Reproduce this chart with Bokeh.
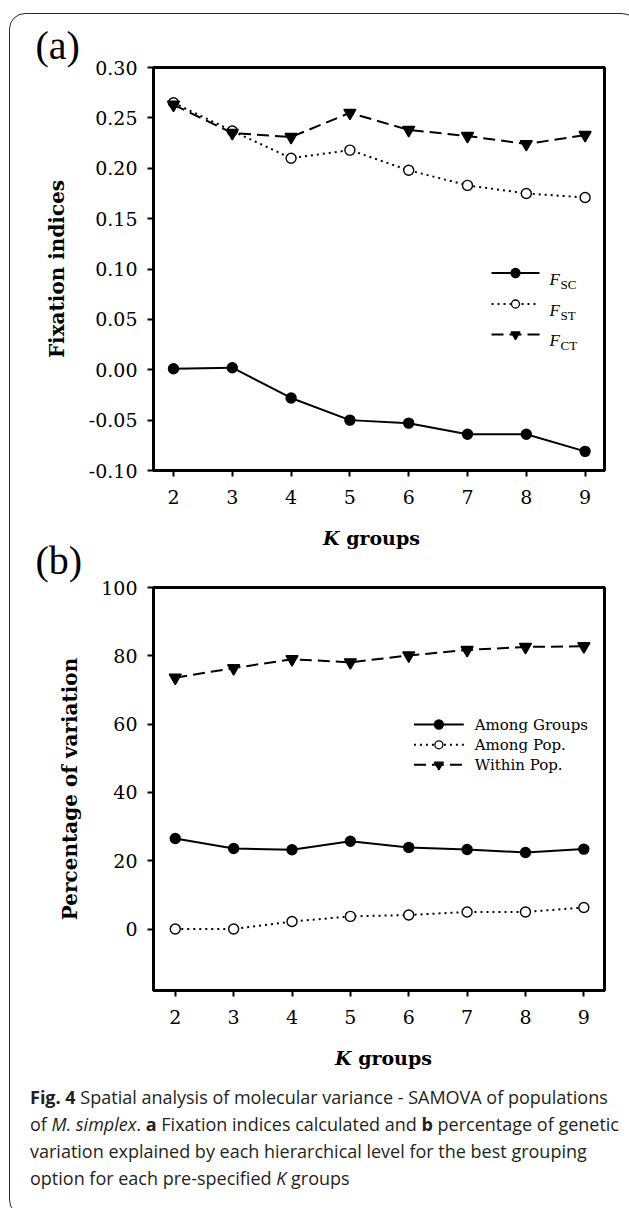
from bokeh.plotting import figure
from bokeh.models import Range1d, FixedTicker, Label, Div, ColumnDataSource, Spacer
from bokeh.layouts import column, row
from bokeh.embed import file_html
from bokeh.resources import INLINE

# ---------------- data ----------------
k_groups = [2, 3, 4, 5, 6, 7, 8, 9]
f_sc = [0.001, 0.002, -0.028, -0.050, -0.053, -0.064, -0.064, -0.081]
f_st = [0.265, 0.237, 0.210, 0.218, 0.198, 0.183, 0.175, 0.171]
f_ct = [0.263, 0.235, 0.231, 0.255, 0.238, 0.232, 0.224, 0.233]

among_groups = [26.5, 23.6, 23.2, 25.7, 23.9, 23.3, 22.4, 23.4]
among_pop = [0.0, 0.0, 2.2, 3.7, 4.1, 5.0, 5.0, 6.3]
within_pop = [73.6, 76.4, 79.0, 78.1, 80.1, 81.7, 82.6, 82.8]

x_ticks = [2, 3, 4, 5, 6, 7, 8, 9]
a_y_ticks = [-0.10, -0.05, 0.00, 0.05, 0.10, 0.15, 0.20, 0.25, 0.30]
a_y_labels = ["-0.10", "-0.05", "0.00", "0.05", "0.10", "0.15", "0.20", "0.25", "0.30"]
b_y_ticks = [0, 20, 40, 60, 80, 100]
b_y_labels = ["0", "20", "40", "60", "80", "100"]

a_legend = [("SC", "solid"), ("ST", "dotted"), ("CT", "dashed")]
b_legend = [("Among Groups", "solid"), ("Among Pop.", "dotted"), ("Within Pop.", "dashed")]

# ---------------- layout geometry (page px) ----------------
PAGE_ORIGIN = 0          # Bokeh's page template has no body margin
COL_X, COL_Y, W = 9, 13, 619
SERIF = "DejaVu Serif"
TIMES = "Liberation Serif"
HTML_SHIFT = -5          # HTML text in the Div sits a few px low

STYLES = {
    "solid": dict(line_dash="solid", marker="circle", size=10, fill="black"),
    "dotted": dict(line_dash="2 4", marker="circle", size=10, fill="white"),
    "dashed": dict(line_dash="12 6", marker="inverted_triangle", size=12, fill="black"),
}


class Geo:
    def __init__(self, top, height, bl, br, bt, bb, xr, yr):
        self.top, self.height = top, height
        self.bl, self.br, self.bt, self.bb = bl, br, bt, bb
        self.xr, self.yr = xr, yr
        self.fl = COL_X + bl
        self.fr = COL_X + W - br
        self.ft = top + bt
        self.fb = top + height - bb

    def x(self, px):
        return self.xr[0] + (px - self.fl) / (self.fr - self.fl) * (self.xr[1] - self.xr[0])

    def y(self, py):
        return self.yr[1] - (py - self.ft) / (self.fb - self.ft) * (self.yr[1] - self.yr[0])


def make_fig(g, yticks, ylabels, ylabel, ystandoff, tag, tag_standoff):
    p = figure(width=W, height=g.height,
               x_range=Range1d(*g.xr), y_range=Range1d(*g.yr),
               output_backend="svg", toolbar_location=None,
               min_border_left=g.bl, min_border_right=g.br,
               min_border_top=g.bt, min_border_bottom=g.bb)
    p.xgrid.visible = False
    p.ygrid.visible = False
    p.outline_line_color = "black"
    p.outline_line_width = 3
    p.background_fill_color = "white"
    p.border_fill_color = None
    for ax in (p.xaxis, p.yaxis):
        ax.axis_line_color = "black"
        ax.axis_line_width = 3
        ax.major_tick_in = 0
        ax.major_tick_out = 6
        ax.major_tick_line_width = 2
        ax.minor_tick_line_color = None
        ax.major_label_text_font = SERIF
        ax.major_label_text_font_size = "19px"
        ax.major_label_text_color = "black"
    p.xaxis.ticker = FixedTicker(ticks=x_ticks)
    p.xaxis.major_label_standoff = 13
    p.yaxis.ticker = FixedTicker(ticks=yticks)
    p.yaxis.major_label_overrides = {t: l for t, l in zip(yticks, ylabels)}
    p.yaxis.major_label_standoff = 10
    p.yaxis.axis_label = ylabel
    p.yaxis.axis_label_text_font = SERIF
    p.yaxis.axis_label_text_font_style = "bold"
    p.yaxis.axis_label_text_font_size = "20px"
    p.yaxis.axis_label_text_color = "black"
    p.yaxis.axis_label_standoff = ystandoff
    # panel tag "(a)" / "(b)" as the figure title, pulled to the left edge
    p.title.text = tag
    p.title.text_font = TIMES
    p.title.text_font_size = "40px"
    p.title.text_font_style = "normal"
    p.title.text_color = "black"
    p.title.align = "left"
    p.title.vertical_align = "bottom"
    p.title.offset = 35 - g.fl
    p.title.standoff = tag_standoff
    return p


def series(p, xs, ys, style):
    s = STYLES[style]
    src = ColumnDataSource(dict(x=xs, y=ys))
    p.line("x", "y", source=src, line_color="black", line_width=2, line_dash=s["line_dash"])
    p.scatter("x", "y", source=src, marker=s["marker"], size=s["size"],
              fill_color=s["fill"], line_color="black", line_width=1.4)


def legend_sample(p, g, x0, x1, ypx, style, msize):
    s = STYLES[style]
    yy = g.y(ypx)
    p.line([g.x(x0), g.x(x1)], [yy, yy], line_color="black", line_width=2, line_dash=s["line_dash"])
    p.scatter([g.x((x0 + x1) / 2)], [yy], marker=s["marker"], size=msize,
              fill_color=s["fill"], line_color="black", line_width=1.3)


# ---------------- panel (a) ----------------
ga = Geo(top=COL_Y, height=515, bl=144, br=24, bt=54, bb=58,
         xr=(1.66, 9.33), yr=(-0.10, 0.30))
pa = make_fig(ga, a_y_ticks, a_y_labels, "Fixation indices", 17, "(a)", 0)
series(pa, k_groups, f_sc, "solid")
series(pa, k_groups, f_st, "dotted")
series(pa, k_groups, f_ct, "dashed")

for i, (sub, style) in enumerate(a_legend):
    ry = [272.5, 303.5, 334.0][i]
    legend_sample(pa, ga, 491, 539, ry, style, 9 if style != "dotted" else 8)
    pa.add_layout(Label(x=ga.x(549), y=ga.y(ry + 6), text="F", text_font=TIMES,
                        text_font_style="italic", text_font_size="17px",
                        text_align="left", text_baseline="alphabetic", text_color="black"))
    pa.add_layout(Label(x=ga.x(560), y=ga.y(ry + 11), text=sub, text_font=TIMES,
                        text_font_size="13px", text_align="left",
                        text_baseline="alphabetic", text_color="black"))

# ---------------- panel (b) ----------------
gb = Geo(top=COL_Y + 515, height=556, bl=144, br=23, bt=59, bb=94,
         xr=(1.627, 9.354), yr=(-18.0, 100.0))
pb = make_fig(gb, b_y_ticks, b_y_labels, "Percentage of variation", 16, "(b)", 10)
series(pb, k_groups, among_groups, "solid")
series(pb, k_groups, among_pop, "dotted")
series(pb, k_groups, within_pop, "dashed")

for i, (name, style) in enumerate(b_legend):
    ry = [724.0, 744.3, 764.3][i]
    legend_sample(pb, gb, 414, 464, ry, style, 9 if style != "dotted" else 8)
    pb.add_layout(Label(x=gb.x(475), y=gb.y(ry), text=name, text_font=SERIF,
                        text_font_size="15px", text_align="left",
                        text_baseline="middle", text_color="black"))

# ---------------- caption (+ x-axis titles overlaid in page position) ----------------
CAP_TOP = COL_Y + 515 + 556
CAP_H = 1206 - CAP_TOP


def kgroups_span(left_px, baseline_px):
    top = baseline_px - 16.1 - CAP_TOP
    return ("<span style=\"position:absolute;left:%.1fpx;top:%.1fpx;line-height:19px;"
            "font-family:'DejaVu Serif';font-weight:bold;font-size:19px;color:#000;"
            "white-space:nowrap;\"><i>K</i> groups</span>" % (left_px - COL_X, top))


caption_html = (
    "<div style=\"position:relative;top:%dpx;width:%dpx;height:%dpx;\">" % (HTML_SHIFT, W, CAP_H)
    + kgroups_span(318, 545)
    + kgroups_span(330, 1065)
    + "<div style=\"font-family:'Open Sans';font-size:18px;line-height:27px;"
    "color:#231f20;white-space:nowrap;padding-left:16px;\">"
    "<b>Fig. 4</b> Spatial analysis of molecular variance - SAMOVA of populations<br>"
    "of <i>M. simplex</i>. <b>a</b> Fixation indices calculated and <b>b</b> percentage of genetic<br>"
    "variation explained by each hierarchical level for the best grouping<br>"
    "option for each pre-specified <i>K</i> groups</div></div>"
)
cap = Div(text=caption_html, width=W, height=CAP_H)

inner = column(pa, pb, cap,
               styles={"outline": "1.5px solid #2a2a2a", "outline-offset": "-1.5px",
                       "border-radius": "16px"})
layout = column(Spacer(width=1, height=COL_Y - PAGE_ORIGIN),
                row(Spacer(width=COL_X - PAGE_ORIGIN, height=1), inner))

open("out.html", "w").write(file_html(layout, INLINE))
